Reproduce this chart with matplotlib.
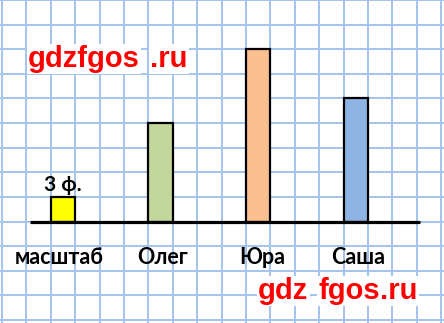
import numpy as np
import matplotlib.pyplot as plt

# data
names = ["масштаб", "Олег", "Юра", "Саша"]
values = [3, 12, 21, 15]
bar_colors = ["#FFFF00", "#C3D69B", "#FAC090", "#8EB4E3"]
scale_label = "3 ф."

W, H = 444, 323
cell_x = 24.4           # px per grid cell, horizontally
cell_y = 24.6           # px per grid cell, vertically
unit = cell_y / 3       # px per "ф."
base_px = 221.5         # baseline, px from top
x0_px = 2.0             # first vertical grid line

fig = plt.figure(figsize=(W / 100, H / 100), dpi=100)
ax = fig.add_axes([0, 0, 1, 1])
ax.set_xlim(-x0_px / cell_x, (W - x0_px) / cell_x)
ax.set_ylim(-(H - base_px) / unit, base_px / unit)

# squared paper
ax.set_xticks(np.arange(0, 19))
ax.set_yticks(np.arange(-12, 30, 3))
ax.grid(True, color="#A4C4EC", lw=1.4)
ax.set_axisbelow(True)
ax.tick_params(length=0, labelbottom=False, labelleft=False)
for s in ax.spines.values():
    s.set_visible(False)

pos = [2.5 + 4 * i for i in range(len(names))]
ax.bar(pos, values, width=1.0, color=bar_colors, edgecolor="black", lw=1.6, zorder=3)
ax.plot([(30 - x0_px) / cell_x, (420 - x0_px) / cell_x], [0, 0], color="black",
        lw=2.3, solid_capstyle="butt", zorder=4)

lab_dx = [-0.17, 0.07, 0.15, 0.1]
for p, n, d in zip(pos, names, lab_dx):
    ax.text(p + d, -4.35, n, ha="center", va="center", fontsize=15.5,
            fontweight="bold", family="Lato", color="black")
ax.text(pos[0], values[0] + 1.4, scale_label, ha="center", va="center",
        fontsize=15, fontweight="bold", family="Lato", color="black")

# watermarks
wm = dict(color="red", fontsize=21, fontweight="bold", family="Liberation Sans",
          va="baseline", ha="left",
          bbox=dict(facecolor="white", edgecolor="none", pad=1))
for x, y, t in [(28, 67, "gdzfgos"), (150, 67, ".ru"),
                (258, 299, "gdz"), (318, 299, "fgos"), (380, 299, ".ru")]:
    fig.text(x / W, 1 - y / H, t, **wm)

fig.savefig("out.png", dpi=100)
